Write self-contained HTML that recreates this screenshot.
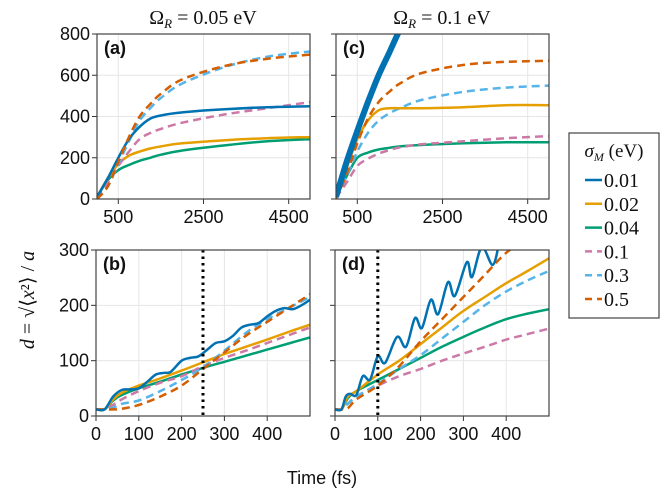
<!DOCTYPE html>
<html><head><meta charset="utf-8"><style>
body{margin:0;background:#fff}
svg{display:block}
.tk{font-family:"Liberation Sans",sans-serif;font-size:18px;fill:#111}
.sr{font-family:"Liberation Serif",serif;fill:#111}
</style></head><body>
<svg id="c" width="666" height="498" xmlns="http://www.w3.org/2000/svg"></svg>
<script>
const colors=['#0072B2','#E69F00','#009E73','#CC79A7','#56B4E9','#D55E00'];
const labels=['0.01','0.02','0.04','0.1','0.3','0.5'];
const dashed=[false,false,false,true,true,true];
// panel a
const aX=[0,250,500,750,1000,1250,1500,2000,3000,4000,5000];
const aBlue=[10,100,200,290,350,390,405,420,435,445,450];
const aOrange=[10,100,170,210,230,245,255,270,285,295,300];
const aGreen=[10,90,140,165,185,200,215,235,260,280,290];
const aPink=[5,80,160,230,290,320,340,370,410,440,470];
const aLBlue=[0,60,170,280,380,440,490,560,640,690,715];
const aRed=[0,60,180,300,400,460,510,580,645,680,700];
// panel c
const cBlueX=[0,250,500,750,1000,1250,1450,1600];
const cBlue=[10,180,330,470,600,710,800,860];
const cX=[0,250,500,750,1000,1250,1500,2000,3000,4000,5000];
const cOrange=[10,150,290,380,430,440,440,440,445,455,455];
const cGreen=[10,110,200,225,240,248,255,262,270,275,275];
const cPink=[5,80,160,195,220,237,250,265,280,295,305];
const cLBlue=[10,110,230,320,380,415,440,480,520,540,550];
const cRed=[0,120,270,390,470,520,560,610,650,665,670];
// panel b
const bBlueX=[0,20,40,60,80,100,120,140,160,175,200,220,240,260,280,300,320,340,360,380,400,420,440,460,480,500];
const bBlue=[12,12,35,47,48,50,62,75,78,80,100,105,108,120,132,135,145,160,165,168,180,190,195,193,200,210];
const bX=[0,20,40,60,100,150,200,250,300,350,400,450,500];
const bOrange=[12,12,30,42,55,68,82,97,112,125,138,152,165];
const bGreen=[12,12,28,38,50,62,75,87,98,109,120,131,142];
const bPink=[12,12,20,30,45,60,72,90,105,118,132,146,160];
const bLBlue=[12,12,15,22,28,45,65,88,118,150,175,195,215];
const bRed=[12,12,12,13,20,35,55,85,115,145,170,195,220];
// panel d
const dBlueX=[0,15,25,35,50,65,82,100,117,145,166,187,203,224,241,264,280,308,320,343,369,385];
const dBlue=[12,12,35,40,38,72,66,108,96,143,125,177,159,210,184,242,217,278,251,305,273,320];
const dX=[0,15,30,50,100,150,200,250,300,350,400,450,500];
const dOrange=[12,12,35,45,75,100,130,160,190,215,240,262,285];
const dGreen=[12,12,32,45,65,85,105,125,143,160,175,185,193];
const dPink=[12,12,22,35,55,72,85,100,113,125,138,148,158];
const dLBlue=[12,12,22,35,58,85,110,140,170,200,225,245,262];
const dRed=[12,12,14,30,55,90,135,175,215,255,295,320,345];
const yTicksTop=[0,200,400,600,800];
const xTicksTop=[500,2500,4500];
const yTicksBot=[0,100,200,300];
const xTicksBot=[0,100,200,300,400];

const NS='http://www.w3.org/2000/svg';
const svg=document.getElementById('c');
function mk(tag,attrs,parent){const e=document.createElementNS(NS,tag);for(const k in attrs)e.setAttribute(k,attrs[k]);(parent||svg).appendChild(e);return e;}
function smooth(P){
  let d='M'+P[0][0].toFixed(1)+','+P[0][1].toFixed(1);
  for(let i=0;i<P.length-1;i++){
    const p0=P[Math.max(0,i-1)],p1=P[i],p2=P[i+1],p3=P[Math.min(P.length-1,i+2)];
    const c1=[p1[0]+(p2[0]-p0[0])/6,p1[1]+(p2[1]-p0[1])/6];
    const c2=[p2[0]-(p3[0]-p1[0])/6,p2[1]-(p3[1]-p1[1])/6];
    d+='C'+c1.map(v=>v.toFixed(1))+' '+c2.map(v=>v.toFixed(1))+' '+p2.map(v=>v.toFixed(1));
  }
  return d;
}
function panel(id,L,R,T,B,xmax,ymax,xt,yt,showY,letter,series,vline){
  const sx=v=>L+(v/xmax)*(R-L), sy=v=>B-(v/ymax)*(B-T);
  const g=mk('g',{});
  
  
  const cp=mk('clipPath',{id:'cp'+id},g);mk('rect',{x:L,y:T,width:R-L,height:B-T},cp);
  xt.forEach(v=>{const l=mk('line',{x1:sx(v),x2:sx(v),y1:T,y2:B,stroke:'#e6e6e6','stroke-width':1},g);
    mk('line',{x1:sx(v),x2:sx(v),y1:B,y2:B+5,stroke:'#333'},g);
    const t=mk('text',{x:sx(v),y:B+24,'text-anchor':'middle',class:'tk'},g);t.textContent=v;});
  yt.forEach(v=>{mk('line',{x1:L,x2:R,y1:sy(v),y2:sy(v),stroke:'#e6e6e6'},g);
    mk('line',{x1:L-5,x2:L,y1:sy(v),y2:sy(v),stroke:'#333'},g);
    if(showY){const t=mk('text',{x:L-7,y:sy(v)+6,'text-anchor':'end',class:'tk'},g);t.textContent=v;}});
  const cg=mk('g',{'clip-path':'url(#cp'+id+')'},g);
  series.forEach(s=>{
    const P=s.x.map((v,i)=>[sx(v),sy(s.y[i])]);
    const p=mk('path',{d:smooth(P),fill:'none',stroke:colors[s.k],'stroke-width':s.w||2.5,'stroke-linejoin':'round'},cg);
    if(dashed[s.k])p.setAttribute('stroke-dasharray','8,5');
    
    
  });
  if(vline!==undefined){const l=mk('line',{x1:sx(vline),x2:sx(vline),y1:T,y2:B,stroke:'#000','stroke-width':3,'stroke-dasharray':'2.5,4'},g);}
  mk('rect',{x:L,y:T,width:R-L,height:B-T,fill:'none',stroke:'#444','stroke-width':1.2},g);
  const t=mk('text',{x:L+7,y:T+20,class:'tk','font-weight':'bold'},g);t.textContent='('+letter+')';
}
panel('a',97,310,34,199,5000,800,xTicksTop,yTicksTop,true,'a',[
 {x:aX,y:aGreen,k:2},{x:aX,y:aOrange,k:1},{x:aX,y:aPink,k:3},{x:aX,y:aLBlue,k:4},{x:aX,y:aBlue,k:0},{x:aX,y:aRed,k:5}]);
panel('c',336,549,34,199,5000,800,xTicksTop,yTicksTop,false,'c',[
 {x:cX,y:cGreen,k:2},{x:cX,y:cPink,k:3},{x:cX,y:cLBlue,k:4},{x:cX,y:cOrange,k:1},{x:cX,y:cRed,k:5},{x:cBlueX,y:cBlue,k:0,w:6}]);
panel('b',96,310,250,416,500,300,xTicksBot,yTicksBot,true,'b',[
 {x:bX,y:bGreen,k:2},{x:bX,y:bPink,k:3},{x:bX,y:bOrange,k:1},{x:bX,y:bLBlue,k:4},{x:bX,y:bRed,k:5},{x:bBlueX,y:bBlue,k:0}],250);
panel('d',335,549,250,416,500,300,xTicksBot,yTicksBot,false,'d',[
 {x:dX,y:dGreen,k:2},{x:dX,y:dPink,k:3},{x:dX,y:dLBlue,k:4},{x:dX,y:dOrange,k:1},{x:dX,y:dRed,k:5},{x:dBlueX,y:dBlue,k:0}],100);

// titles
[[203,'0.05'],[442,'0.1']].forEach(([x,v])=>{const t=mk('text',{x:x,y:24,'text-anchor':'middle',class:'sr','font-size':20});
 t.innerHTML='Ω<tspan font-size="13" font-style="italic" dy="4">R</tspan><tspan dy="-4"> = '+v+' eV</tspan>';
 });
// y label
const yl=mk('text',{x:0,y:0,transform:'translate(34,300) rotate(-90)','text-anchor':'middle',class:'sr','font-size':20});
yl.innerHTML='<tspan font-style="italic">d</tspan> = √⟨<tspan font-style="italic">x</tspan>²⟩ / <tspan font-style="italic">a</tspan>';

const xl=mk('text',{x:322,y:484,'text-anchor':'middle',class:'tk','font-size':19});xl.textContent='Time (fs)';

// legend
const lg=mk('g',{});

mk('rect',{x:569,y:133,width:90,height:185,fill:'#fff',stroke:'#444','stroke-width':1.2},lg);
const lt=mk('text',{x:614,y:157,'text-anchor':'middle',class:'sr','font-size':19},lg);
lt.innerHTML='<tspan font-style="italic">σ</tspan><tspan font-size="12" font-style="italic" dy="4">M</tspan><tspan dy="-4"> (eV)</tspan>';
labels.forEach((s,i)=>{const y=180+i*23.8;
 const e=mk('g',{},lg);
 const l=mk('line',{x1:585,x2:602,y1:y,y2:y,stroke:colors[i],'stroke-width':2.5},e);
 if(dashed[i])l.setAttribute('stroke-dasharray','7,5');
 const t=mk('text',{x:604,y:y+7,class:'sr','font-size':20},e);t.textContent=s;});
</script>
</body></html>
